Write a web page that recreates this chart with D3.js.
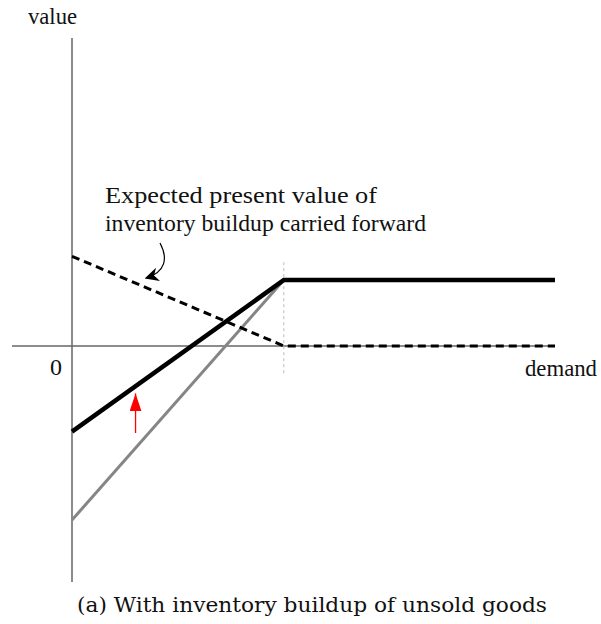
<!DOCTYPE html>
<html>
<head>
<meta charset="utf-8">
<script src="https://cdn.jsdelivr.net/npm/d3@7"></script>
<style>
  body { margin: 0; background: #fff; }
  text { font-family: "Liberation Serif", "DejaVu Serif", serif; fill: #111; }
</style>
</head>
<body>
<svg id="chart"></svg>
<script>
// demand breakpoints (0, kink, right end)
const demand = [0, 1, 2.28];
// value curves at those demand points
const withInventory = [-1.3, 1.0, 1.0];     // thick black
const withoutInventory = [-2.64, 1.0, 1.0]; // grey (only up to the kink)
const carriedForward = [1.36, 0, 0];        // dashed
const liftAt = 0.3;                         // red arrow position on demand axis

const width = 601, height = 624;
const svg = d3.select('#chart').attr('width', width).attr('height', height);

const x = d3.scaleLinear().domain([0, 2.28]).range([72, 555]);
const y = d3.scaleLinear().domain([-3.58, 4.67]).range([582, 38]);

const line = d3.line().x(d => x(d[0])).y(d => y(d[1]));

// axes
svg.append('line')
    .attr('x1', 12).attr('x2', x(2.28))
    .attr('y1', y(0)).attr('y2', y(0))
    .attr('stroke', '#666').attr('stroke-width', 1.5);
svg.append('line')
    .attr('x1', x(0)).attr('x2', x(0))
    .attr('y1', y(4.67)).attr('y2', y(-3.58))
    .attr('stroke', '#666').attr('stroke-width', 1.5);

// dotted guide at the kink
svg.append('line')
    .attr('x1', x(1)).attr('x2', x(1))
    .attr('y1', y(1.27)).attr('y2', y(-0.45))
    .attr('stroke', '#bbb').attr('stroke-width', 1)
    .attr('stroke-dasharray', '3,3');

// grey line (no inventory)
svg.append('path')
    .datum(demand.slice(0, 2).map((d, i) => [d, withoutInventory[i]]))
    .attr('d', line)
    .attr('fill', 'none').attr('stroke', '#858585').attr('stroke-width', 3);

// dashed line
svg.append('path')
    .datum(demand.map((d, i) => [d, carriedForward[i]]))
    .attr('d', line)
    .attr('fill', 'none').attr('stroke', '#000').attr('stroke-width', 3)
    .attr('stroke-dasharray', '8,5');

// thick black line
svg.append('path')
    .datum(demand.map((d, i) => [d, withInventory[i]]))
    .attr('d', line)
    .attr('fill', 'none').attr('stroke', '#000').attr('stroke-width', 4.5);

// red arrow
const defs = svg.append('defs');
defs.append('marker')
    .attr('id', 'redhead')
    .attr('viewBox', '0 0 18 12')
    .attr('refX', 18).attr('refY', 6)
    .attr('markerWidth', 18).attr('markerHeight', 12)
    .attr('markerUnits', 'userSpaceOnUse')
    .attr('orient', 'auto')
  .append('path').attr('d', 'M0,0 L18,6 L0,12 Z').attr('fill', '#f00');
svg.append('line')
    .attr('x1', x(liftAt)).attr('x2', x(liftAt))
    .attr('y1', y(-1.32)).attr('y2', y(-0.72))
    .attr('stroke', '#f00').attr('stroke-width', 1.3)
    .attr('marker-end', 'url(#redhead)');

// annotation arrow
defs.append('marker')
    .attr('id', 'blackhead')
    .attr('viewBox', '0 0 10 10')
    .attr('refX', 9).attr('refY', 5)
    .attr('markerWidth', 14).attr('markerHeight', 14)
    .attr('markerUnits', 'userSpaceOnUse')
    .attr('orient', 'auto')
  .append('path').attr('d', 'M0,0 L10,5 L0,10 L3,5 Z').attr('fill', '#000');
svg.append('path')
    .attr('d', 'M160,243 C168,258 166,272 146,278')
    .attr('fill', 'none').attr('stroke', '#000').attr('stroke-width', 1.2)
    .attr('marker-end', 'url(#blackhead)');

// labels
const label = (tx, ty, size, len, str) => svg.append('text')
    .attr('x', tx).attr('y', ty).attr('font-size', size)
    .attr('textLength', len).attr('lengthAdjust', 'spacingAndGlyphs')
    .text(str);

label(28, 24, 22.5, 49, 'value');
label(50, 375, 24, 12, '0');
label(525, 376, 22.5, 72, 'demand');
label(105, 203, 24, 272, 'Expected present value of');
label(105, 231, 24, 321, 'inventory buildup carried forward');
label(77, 612, 20.5, 470, '(a) With inventory buildup of unsold goods')
    .style('font-family', '"DejaVu Serif", serif');
</script>
</body>
</html>
